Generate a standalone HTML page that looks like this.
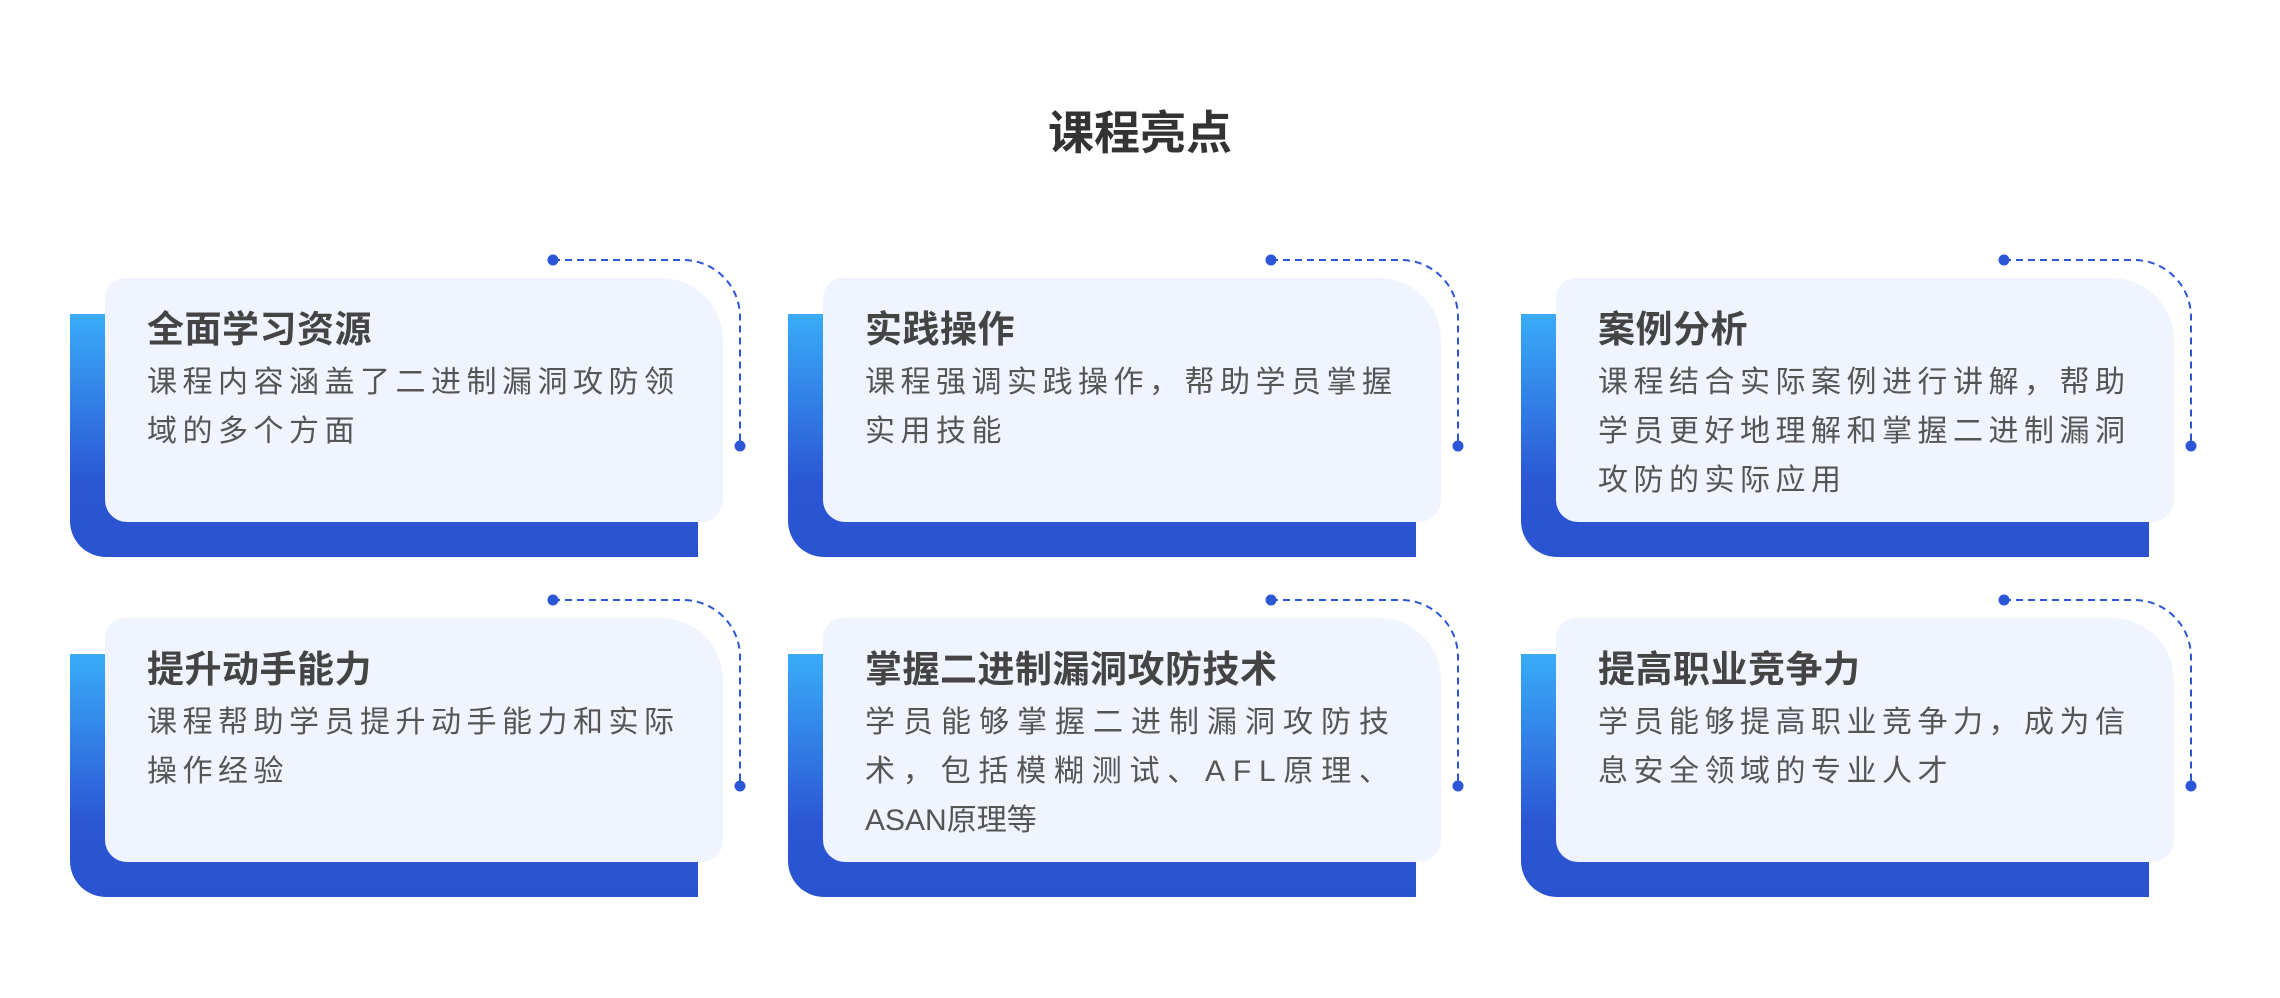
<!DOCTYPE html>
<html><head><meta charset="utf-8"><style>
html,body{margin:0;padding:0;background:#fff;}
body{width:2280px;height:998px;position:relative;overflow:hidden;font-family:"Liberation Sans","Noto Sans CJK SC",sans-serif;}
.h{position:absolute;left:0;width:2280px;top:100px;text-align:center;font-size:46px;font-weight:bold;color:#333;line-height:66px;}
.c{position:absolute;width:618px;height:244px;}
.back{position:absolute;left:-35px;top:36px;width:628px;height:243px;background:linear-gradient(#39acf9,#2b56d3 70%,#2a53d0);border-radius:0 0 0 36px;}
.front{position:absolute;left:0;top:0;width:618px;height:244px;background:#eff4fe;border-radius:20px 62px 22px 22px;}
.t{position:absolute;left:42px;top:30px;font-size:37px;font-weight:bold;color:#444;line-height:44px;white-space:nowrap;letter-spacing:0.5px;}
.b{position:absolute;left:42px;top:80px;width:534px;font-size:30px;color:#555;line-height:49px;}
.b div{white-space:nowrap;letter-spacing:5.5px;height:49px;}
.f{display:flex;justify-content:space-between;}
svg.l{position:absolute;left:0;top:0;overflow:visible;}
</style></head><body>
<div class="h">课程亮点</div>

<div class="c" style="left:105px;top:278px">
<div class="back"></div><div class="front"></div>
<svg class="l" width="1" height="1"><path d="M448 -18 H578 A57 57 0 0 1 635 39 V168" fill="none" stroke="#2b57d6" stroke-width="2" stroke-dasharray="7 5"/><circle cx="448" cy="-18" r="5.5" fill="#2b57d6"/><circle cx="635" cy="168" r="5.5" fill="#2b57d6"/></svg>
<div class="t">全面学习资源</div>
<div class="b"><div>课程内容涵盖了二进制漏洞攻防领</div><div>域的多个方面</div></div>
</div>

<div class="c" style="left:823px;top:278px">
<div class="back"></div><div class="front"></div>
<svg class="l" width="1" height="1"><path d="M448 -18 H578 A57 57 0 0 1 635 39 V168" fill="none" stroke="#2b57d6" stroke-width="2" stroke-dasharray="7 5"/><circle cx="448" cy="-18" r="5.5" fill="#2b57d6"/><circle cx="635" cy="168" r="5.5" fill="#2b57d6"/></svg>
<div class="t">实践操作</div>
<div class="b"><div>课程强调实践操作，帮助学员掌握</div><div>实用技能</div></div>
</div>

<div class="c" style="left:1556px;top:278px">
<div class="back"></div><div class="front"></div>
<svg class="l" width="1" height="1"><path d="M448 -18 H578 A57 57 0 0 1 635 39 V168" fill="none" stroke="#2b57d6" stroke-width="2" stroke-dasharray="7 5"/><circle cx="448" cy="-18" r="5.5" fill="#2b57d6"/><circle cx="635" cy="168" r="5.5" fill="#2b57d6"/></svg>
<div class="t">案例分析</div>
<div class="b"><div>课程结合实际案例进行讲解，帮助</div><div>学员更好地理解和掌握二进制漏洞</div><div>攻防的实际应用</div></div>
</div>

<div class="c" style="left:105px;top:618px">
<div class="back"></div><div class="front"></div>
<svg class="l" width="1" height="1"><path d="M448 -18 H578 A57 57 0 0 1 635 39 V168" fill="none" stroke="#2b57d6" stroke-width="2" stroke-dasharray="7 5"/><circle cx="448" cy="-18" r="5.5" fill="#2b57d6"/><circle cx="635" cy="168" r="5.5" fill="#2b57d6"/></svg>
<div class="t">提升动手能力</div>
<div class="b"><div>课程帮助学员提升动手能力和实际</div><div>操作经验</div></div>
</div>

<div class="c" style="left:823px;top:618px">
<div class="back"></div><div class="front"></div>
<svg class="l" width="1" height="1"><path d="M448 -18 H578 A57 57 0 0 1 635 39 V168" fill="none" stroke="#2b57d6" stroke-width="2" stroke-dasharray="7 5"/><circle cx="448" cy="-18" r="5.5" fill="#2b57d6"/><circle cx="635" cy="168" r="5.5" fill="#2b57d6"/></svg>
<div class="t">掌握二进制漏洞攻防技术</div>
<div class="b"><div style="letter-spacing:8px">学员能够掌握二进制漏洞攻防技</div><div class="f" style="width:524px;letter-spacing:0"><span>术</span><span>，</span><span>包</span><span>括</span><span>模</span><span>糊</span><span>测</span><span>试</span><span>、</span><span>A</span><span>F</span><span>L</span><span>原</span><span>理</span><span>、</span></div><div style="letter-spacing:0">ASAN原理等</div></div>
</div>

<div class="c" style="left:1556px;top:618px">
<div class="back"></div><div class="front"></div>
<svg class="l" width="1" height="1"><path d="M448 -18 H578 A57 57 0 0 1 635 39 V168" fill="none" stroke="#2b57d6" stroke-width="2" stroke-dasharray="7 5"/><circle cx="448" cy="-18" r="5.5" fill="#2b57d6"/><circle cx="635" cy="168" r="5.5" fill="#2b57d6"/></svg>
<div class="t">提高职业竞争力</div>
<div class="b"><div>学员能够提高职业竞争力，成为信</div><div>息安全领域的专业人才</div></div>
</div>
</body></html>
